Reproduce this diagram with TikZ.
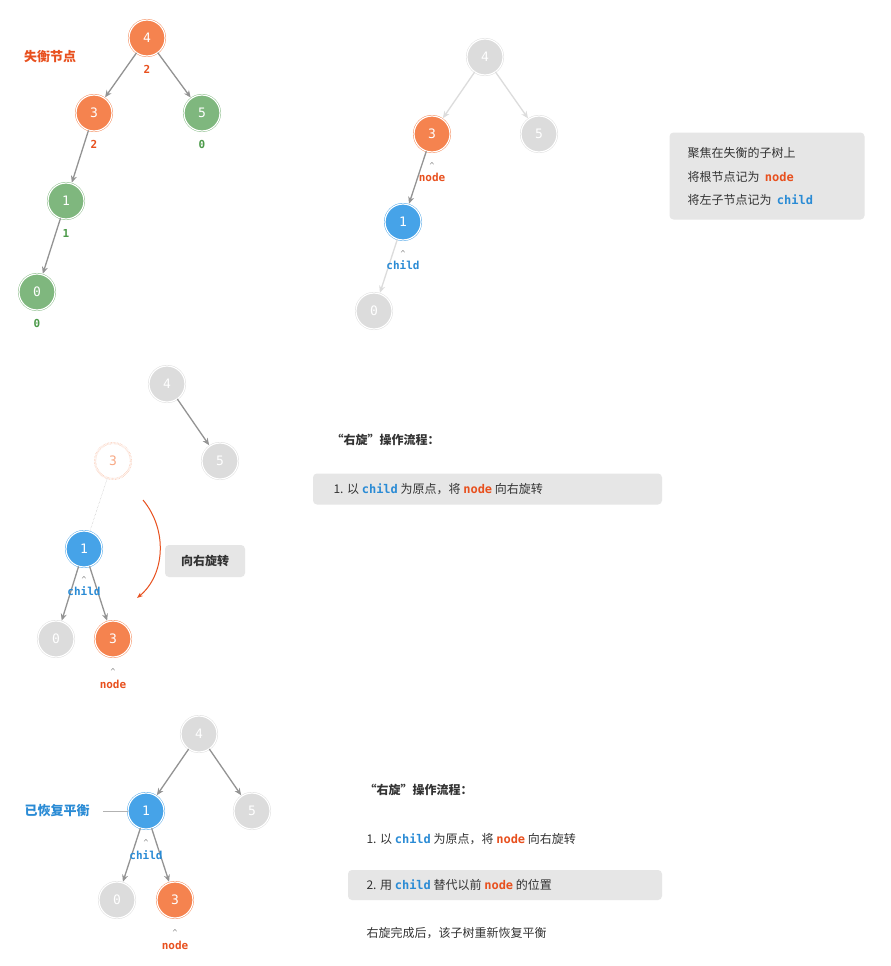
\documentclass[tikz,border=0pt]{standalone}
\usepackage{fontspec}
\setmainfont{Noto Sans CJK SC}
\newfontfamily\cjk{Noto Sans CJK SC}
\newfontfamily\mono{DejaVu Sans Mono}
\usetikzlibrary{arrows.meta}
\definecolor{cor}{HTML}{F5834F}
\definecolor{cgr}{HTML}{7FB77E}
\definecolor{cbl}{HTML}{46A3E8}
\definecolor{cgy}{HTML}{DCDCDC}
\definecolor{lor}{HTML}{E8501E}
\definecolor{lgr}{HTML}{4B9A49}
\definecolor{lbl}{HTML}{2A8BD5}
\definecolor{bx}{HTML}{E6E6E6}
\definecolor{tx}{HTML}{333333}
\tikzset{
 tn/.style={circle,minimum size=36pt,inner sep=0pt,draw=#1,double=white,double distance=1.2pt,fill=#1,text=white,font=\mono\fontsize{13}{13}\selectfont},
 ed/.style={draw=gray!85,line width=1.3pt,-{Stealth[length=7pt,width=6pt]},shorten >=1pt},
 bl/.style={font=\mono\bfseries\fontsize{11}{11}\selectfont,text=#1},
 car/.style={font=\mono\fontsize{8}{8}\selectfont,text=gray},
 txt/.style={font=\cjk\fontsize{12}{12}\selectfont,text=tx,anchor=west},
 box/.style={fill=bx,rounded corners=4pt},
}
\newcommand{\cd}[2]{{\mono\bfseries\textcolor{#1}{#2}}}
\begin{document}
\begin{tikzpicture}[x=1pt,y=-1pt]
\path[use as bounding box,fill=white] (0,0) rectangle (891,966);
% panel 1
\node[tn=cor] (a4) at (147,38) {4};
\node[tn=cor] (a3) at (94,113) {3};
\node[tn=cgr] (a5) at (202,113) {5};
\node[tn=cgr] (a1) at (66,201) {1};
\node[tn=cgr] (a0) at (37,292) {0};
\draw[ed] (a4)--(a3); \draw[ed] (a4)--(a5); \draw[ed] (a3)--(a1); \draw[ed] (a1)--(a0);
\node[bl=lor] (b4) at (147,69) {2};
\node[bl=lor] (b3) at (94,144) {2};
\node[bl=lgr] (b5) at (202,144) {0};
\node[bl=lgr] (b1) at (66,233) {1};
\node[bl=lgr] (b0) at (37,323) {0};
\node[font=\cjk\bfseries\fontsize{13}{13}\selectfont,text=lor] (t1) at (50,57) {失衡节点};
% panel 2
\node[tn=cgy] (c4) at (485,57) {4};
\node[tn=cor] (c3) at (432,134) {3};
\node[tn=cgy] (c5) at (539,134) {5};
\node[tn=cbl] (c1) at (403,222) {1};
\node[tn=cgy] (c0) at (374,311) {0};
\draw[ed,draw=cgy] (c4)--(c3); \draw[ed,draw=cgy] (c4)--(c5); \draw[ed] (c3)--(c1); \draw[ed,draw=cgy] (c1)--(c0);
\node[car] (k1) at (432,166) {\^{}};
\node[bl=lor] (l1) at (432,177) {node};
\node[car] (k2) at (403,254) {\^{}};
\node[bl=lbl] (l2) at (403,265) {child};
\node[box,minimum width=195pt,minimum height=87pt] (bx1) at (767,176) {};
\node[txt] (s1) at (684,153) {聚焦在失衡的子树上};
\node[txt] (s2) at (684,177) {将根节点记为 \ \cd{lor}{node}};
\node[txt] (s3) at (684,200) {将左子节点记为 \ \cd{lbl}{child}};
% panel 3
\node[tn=cgy] (d4) at (167,384) {4};
\node[tn=cgy] (d5) at (220,461) {5};
\node[circle,minimum size=36pt,inner sep=0pt,draw=cor!60,densely dotted,double=white,double distance=1.2pt,text=cor!70,font=\mono\fontsize{13}{13}\selectfont] (d3g) at (113,461) {3};
\node[tn=cbl] (d1) at (84,549) {1};
\node[tn=cgy] (d0) at (56,639) {0};
\node[tn=cor] (d3) at (113,639) {3};
\draw[ed] (d4)--(d5);
\draw[gray!60,densely dotted] (d3g)--(d1);
\draw[ed] (d1)--(d0); \draw[ed] (d1)--(d3);
\node[car] (k3) at (84,580) {\^{}};
\node[bl=lbl] (l3) at (84,591) {child};
\node[car] (k4) at (113,672) {\^{}};
\node[bl=lor] (l4) at (113,684) {node};
\coordinate (r1) at (143,500);
\coordinate (r2) at (137,598);
\draw[lor,line width=1pt,-{Stealth[length=6pt]}] (r1) .. controls (168,530) and (165,575) .. (r2);
\node[box,minimum width=80pt,minimum height=32pt,font=\cjk\bfseries\fontsize{12}{12}\selectfont,text=tx] (rot) at (205,561) {向右旋转};
\node[txt,font=\cjk\bfseries\fontsize{12}{12}\selectfont] (h1) at (328,440) {“右旋”操作流程：};
\node[box,minimum width=349pt,minimum height=31pt] (bx2) at (487.5,489) {};
\node[txt] (p1) at (330,489) {1. 以 \cd{lbl}{child} 为原点，将 \cd{lor}{node} 向右旋转};
% panel 4
\node[tn=cgy] (e4) at (199,734) {4};
\node[tn=cbl] (e1) at (146,811) {1};
\node[tn=cgy] (e5) at (252,811) {5};
\node[tn=cgy] (e0) at (117,900) {0};
\node[tn=cor] (e3) at (175,900) {3};
\draw[ed] (e4)--(e1); \draw[ed] (e4)--(e5); \draw[ed] (e1)--(e0); \draw[ed] (e1)--(e3);
\node[car] (k5) at (146,843) {\^{}};
\node[bl=lbl] (l5) at (146,855) {child};
\node[car] (k6) at (175,933) {\^{}};
\node[bl=lor] (l6) at (175,945) {node};
\node[font=\cjk\bfseries\fontsize{13}{13}\selectfont,text=lbl] (t4) at (57,811) {已恢复平衡};
\draw[gray!60] (103,811) -- (e1);
\node[txt,font=\cjk\bfseries\fontsize{12}{12}\selectfont] (h2) at (361,790) {“右旋”操作流程：};
\node[txt] (q1) at (363,839) {1. 以 \cd{lbl}{child} 为原点，将 \cd{lor}{node} 向右旋转};
\node[box,minimum width=314pt,minimum height=30pt] (bx3) at (505,885) {};
\node[txt] (q2) at (363,885) {2. 用 \cd{lbl}{child} 替代以前 \cd{lor}{node} 的位置};
\node[txt] (q3) at (363,933) {右旋完成后，该子树重新恢复平衡};
\end{tikzpicture}
\end{document}
